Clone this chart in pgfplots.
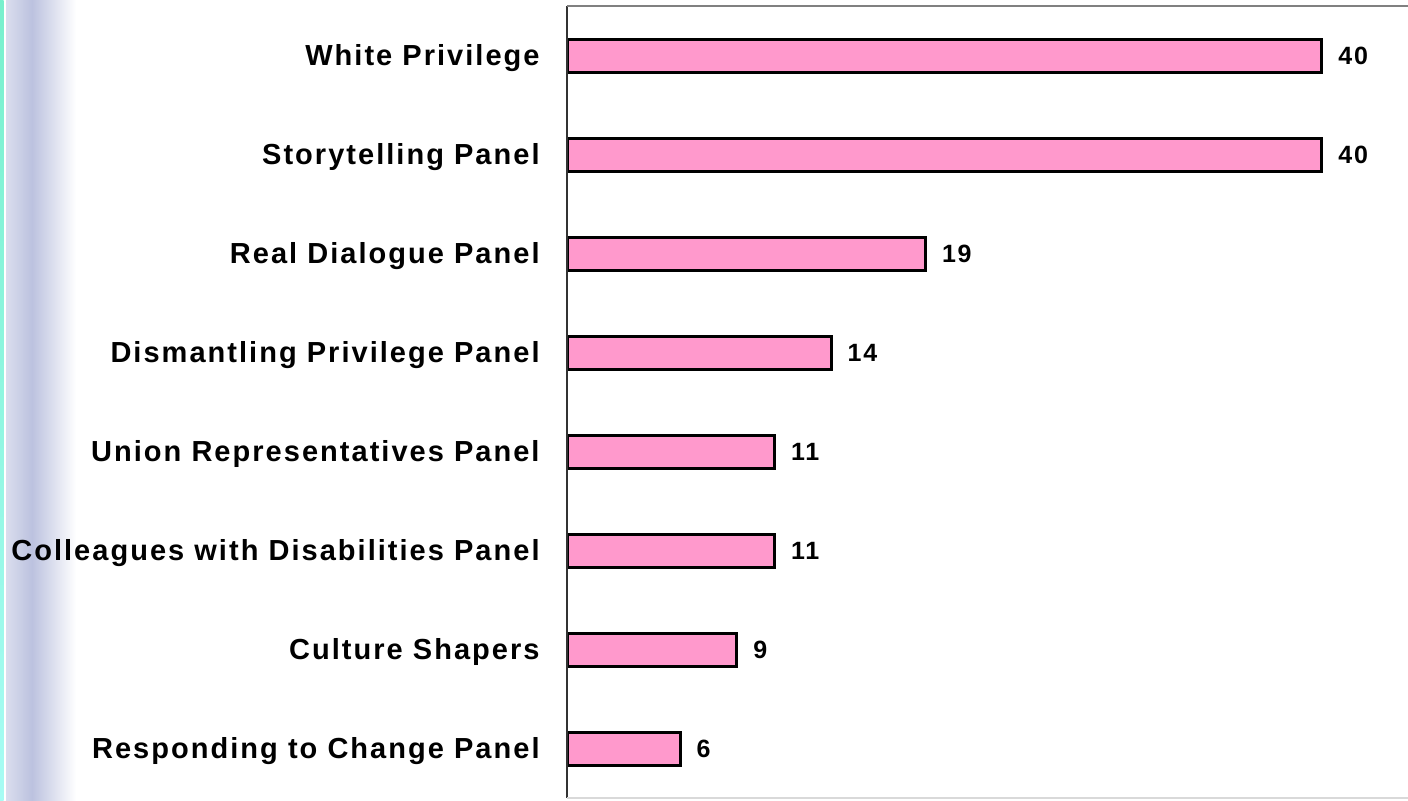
\documentclass[border=0pt]{standalone}
\usepackage{pgfplots}
\pgfplotsset{compat=1.18}
\usepackage{fontspec}
\setmainfont{Liberation Sans}[LetterSpace=7]
\definecolor{barpink}{HTML}{FF99CC}
\definecolor{teal1}{RGB}{120,240,205}
\definecolor{lav}{RGB}{188,194,223}
\begin{document}
\begin{tikzpicture}[x=1pt,y=1pt]
\useasboundingbox (0,0) rectangle (704,400);
\fill[white] (0,0) rectangle (704,400);
% decorative slide background on the left
\shade[left color=lav, right color=white] (16,0) rectangle (38,400);
\shade[left color=white!45!lav, right color=lav] (3,0) rectangle (16,400);
\shade[top color=teal1, bottom color=teal1!50!cyan!45] (0,0) rectangle (1.8,400);
\begin{axis}[
  at={(283.5pt,1pt)}, anchor=south west,
  scale only axis,
  width=420.5pt, height=396pt,
  xbar, bar width=16.5pt,
  xmin=0, xmax=44.56,
  ymin=-0.5, ymax=7.5,
  y dir=reverse,
  axis line style={draw=none},
  xtick=\empty,
  ytick={0,1,2,3,4,5,6,7},
  yticklabels={White Privilege,Storytelling Panel,Real Dialogue Panel,Dismantling Privilege Panel,Union Representatives Panel,Colleagues with Disabilities Panel,Culture Shapers,Responding to Change Panel},
  major tick length=0pt,
  yticklabel style={font=\fontsize{14.5}{17}\selectfont\bfseries, inner sep=0pt, anchor=base east, xshift=-13.5pt, yshift=-5.2pt},
  nodes near coords,
  nodes near coords align={horizontal},
  every node near coord/.append style={font=\fontsize{12.5}{15}\selectfont\bfseries, inner sep=0pt, anchor=base west, xshift=7.5pt, yshift=-4.5pt},
  /pgf/number format/assume math mode=true,
  clip=false,
]
\addplot[fill=barpink, draw=black, line width=1.5pt] coordinates {
  (40,0) (40,1) (19,2) (14,3) (11,4) (11,5) (9,6) (6,7)
};
\draw[draw=black!80, line width=1.1pt] (axis cs:0,-0.5) -- (axis cs:0,7.5);
\draw[draw=black!50, line width=1.3pt] (axis cs:0,-0.5) -- (axis cs:44.56,-0.5);
\draw[draw=black!15, line width=0.8pt] (axis cs:0,7.5) -- (axis cs:44.56,7.5);
\end{axis}
\end{tikzpicture}
\end{document}
